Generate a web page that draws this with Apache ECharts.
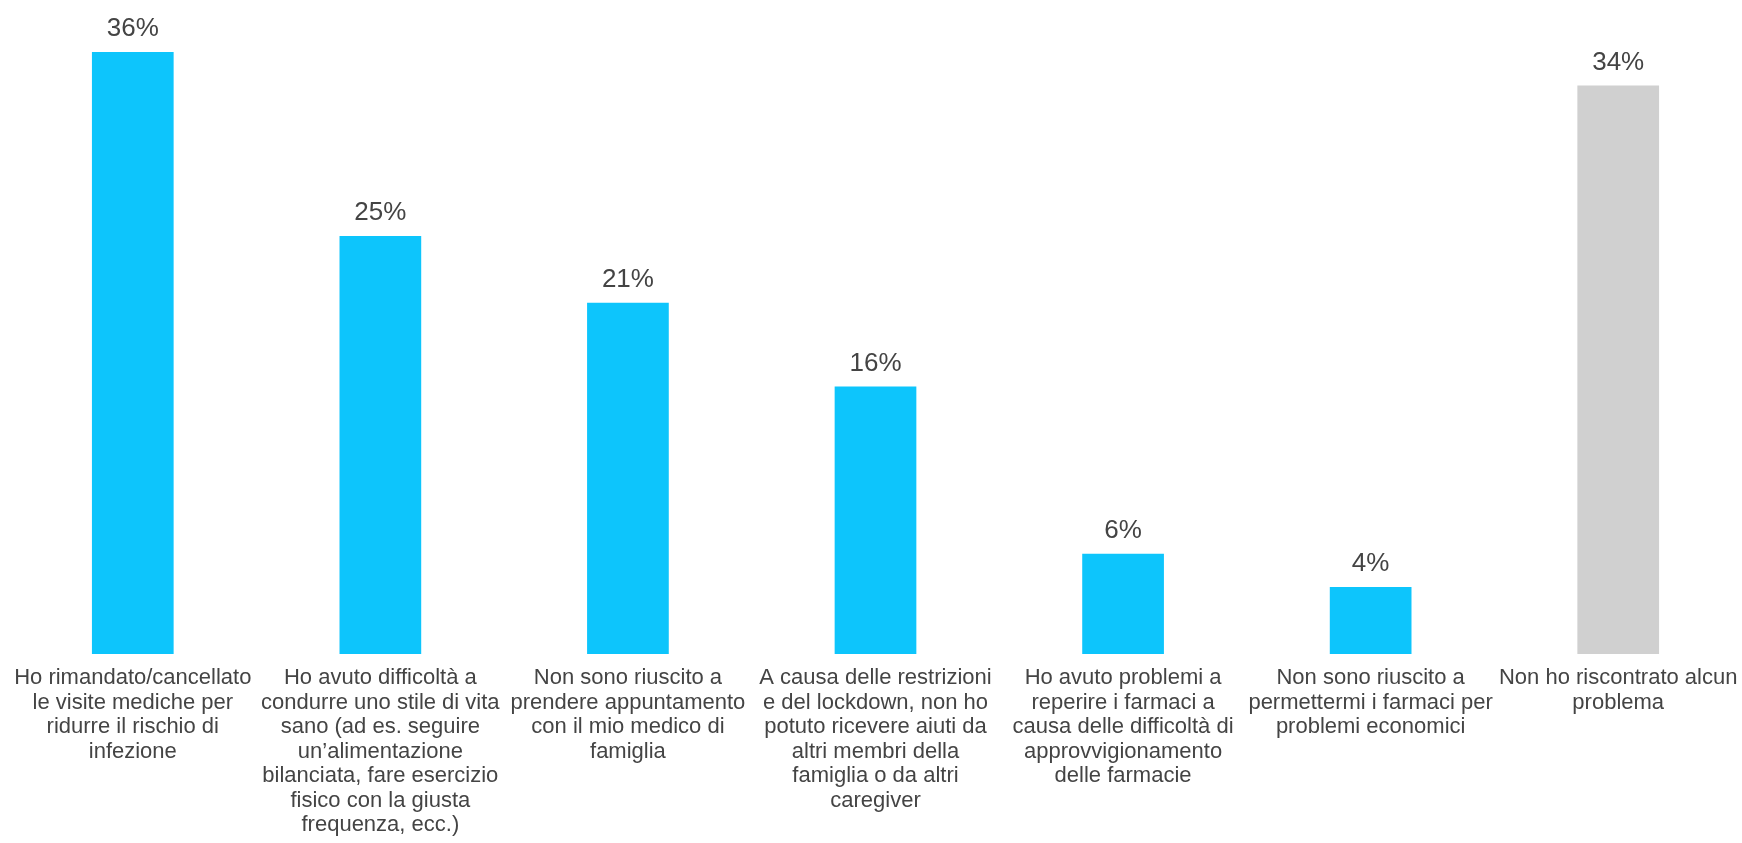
<!DOCTYPE html>
<html>
<head>
<meta charset="utf-8">
<script src="https://cdn.jsdelivr.net/npm/echarts@6/dist/echarts.min.js"></script>
<style>
  html, body { margin: 0; padding: 0; background: #ffffff; }
  #chart { width: 1742px; height: 843px; }
</style>
</head>
<body>
<div id="chart"></div>
<script>
// Problems experienced (share of respondents, %)
const categories = [
  'Ho rimandato/cancellato\nle visite mediche per\nridurre il rischio di\ninfezione',
  'Ho avuto difficoltà a\ncondurre uno stile di vita\nsano (ad es. seguire\nun’alimentazione\nbilanciata, fare esercizio\nfisico con la giusta\nfrequenza, ecc.)',
  'Non sono riuscito a\nprendere appuntamento\ncon il mio medico di\nfamiglia',
  'A causa delle restrizioni\ne del lockdown, non ho\npotuto ricevere aiuti da\naltri membri della\nfamiglia o da altri\ncaregiver',
  'Ho avuto problemi a\nreperire i farmaci a\ncausa delle difficoltà di\napprovvigionamento\ndelle farmacie',
  'Non sono riuscito a\npermettermi i farmaci per\nproblemi economici',
  'Non ho riscontrato alcun\nproblema'
];
const values = [36, 25, 21, 16, 6, 4, 34];
// index of the "no problem" answer, drawn in neutral grey
const noProblemIndex = 6;

const FONT = '"Liberation Sans", Arial, sans-serif';
const TEXT = '#444444';

const chart = echarts.init(document.getElementById('chart'));
chart.setOption({
  animation: false,
  grid: { left: 9, right: -3, top: 52, bottom: 189, containLabel: false },
  xAxis: {
    type: 'category',
    data: categories,
    axisLine: { show: false },
    axisTick: { show: false },
    axisLabel: {
      interval: 0,
      margin: 12,
      color: TEXT,
      fontFamily: FONT,
      fontSize: 22,
      lineHeight: 24.5,
      align: 'center'
    }
  },
  yAxis: {
    type: 'value',
    min: 0,
    max: 36,
    show: false,
    splitLine: { show: false }
  },
  series: [{
    type: 'bar',
    barWidth: '33%',
    data: values.map((v, i) => ({
      value: v,
      itemStyle: { color: i === noProblemIndex ? '#D0D0D0' : '#0DC5FC' }
    })),
    label: {
      show: true,
      position: 'top',
      distance: 10,
      formatter: p => p.value + '%',
      color: TEXT,
      fontFamily: FONT,
      fontSize: 26
    }
  }]
});
</script>
</body>
</html>
